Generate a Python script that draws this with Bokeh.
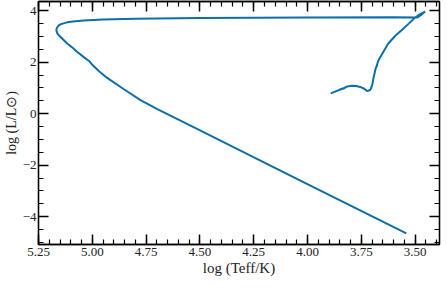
from bokeh.plotting import figure
from bokeh.models import (Range1d, LinearAxis, SingleIntervalTicker,
                          CustomJSTickFormatter)
from bokeh.embed import file_html
from bokeh.resources import INLINE

# Evolutionary track
log_teff = [3.892, 3.875, 3.855, 3.826, 3.848, 3.836, 3.815, 3.795, 3.775,
            3.755, 3.735, 3.722, 3.708, 3.700, 3.692, 3.684, 3.676, 3.681,
            3.672, 3.655, 3.625, 3.590, 3.563, 3.530, 3.500, 3.475, 3.454,
            3.470, 3.460, 3.485, 3.470, 3.490,
            3.600, 4.000, 4.500, 4.800, 4.950, 5.040, 5.090, 5.117, 5.145,
            5.156, 5.165, 5.167, 5.163, 5.156, 5.140, 5.117, 5.090, 5.071,
            5.032, 5.015, 5.000, 4.970, 4.931, 4.853, 4.776, 4.698, 4.511,
            4.045, 3.541]
log_l = [0.79, 0.85, 0.92, 1.00, 0.95, 0.97, 1.06, 1.09, 1.08,
         1.04, 0.96, 0.88, 0.93, 1.10, 1.45, 1.75, 1.90, 1.80,
         2.05, 2.30, 2.73, 3.05, 3.24, 3.50, 3.74, 3.88, 3.97,
         3.86, 3.93, 3.78, 3.85, 3.74,
         3.745, 3.735, 3.72, 3.69, 3.66, 3.62, 3.58, 3.55, 3.48,
         3.43, 3.33, 3.24, 3.13, 3.05, 2.92, 2.73, 2.55, 2.41,
         2.15, 2.05, 1.90, 1.66, 1.39, 0.95, 0.53, 0.18, -0.60,
         -2.55, -4.65]

x_lim = (5.25, 3.387)
y_lim = (-5.08, 4.36)
x_tick_step, x_minor_per_major = 0.25, 5
y_tick_step, y_minor_per_major = 2, 4

FONT = "Liberation Serif"
BLUE = "#0a6fab"

p = figure(width=440, height=280, frame_width=401, frame_height=243,
           output_backend="svg", toolbar_location=None,
           x_range=Range1d(*x_lim), y_range=Range1d(*y_lim),
           x_axis_location=None, y_axis_location=None,
           min_border_left=33, min_border_right=6, min_border_top=1,
           min_border_bottom=36)
p.grid.visible = False
p.outline_line_color = "black"
p.outline_line_width = 1.3
p.background_fill_color = "white"
p.border_fill_color = "white"

minus_fmt = CustomJSTickFormatter(code="""
    if (Math.abs(tick) < 1e-9) return "0";
    return tick < 0 ? "\\u2212" + Math.abs(tick) : String(tick);
""")
x_fmt = CustomJSTickFormatter(code="return tick.toFixed(2);")
blank = CustomJSTickFormatter(code="return '';")


def style(ax, labels=True):
    ax.major_tick_in = 10
    ax.major_tick_out = 0
    ax.minor_tick_in = 5
    ax.minor_tick_out = 0
    ax.axis_line_color = "black"
    ax.axis_line_width = 1.3
    ax.major_tick_line_color = "#000000"
    ax.minor_tick_line_color = "#000000"
    ax.major_tick_line_width = 1.5
    ax.minor_tick_line_width = 1.2
    ax.major_label_text_font = FONT
    ax.major_label_text_font_size = "13px"
    ax.major_label_text_color = "#222222"
    ax.axis_label_text_font = FONT
    ax.axis_label_text_font_size = "15px"
    ax.axis_label_text_font_style = "normal"
    ax.axis_label_text_color = "#222222"
    if not labels:
        ax.major_label_standoff = 0
        ax.major_label_text_font_size = "0px"


xt = SingleIntervalTicker(interval=x_tick_step, num_minor_ticks=x_minor_per_major)
yt = SingleIntervalTicker(interval=y_tick_step, num_minor_ticks=y_minor_per_major)

xb = LinearAxis(ticker=xt, formatter=x_fmt, axis_label="log (Teff/K)")
style(xb)
xb.major_label_standoff = 3
xb.axis_label_standoff = 1
p.add_layout(xb, "below")

yl = LinearAxis(ticker=yt, formatter=minus_fmt, axis_label="log (L/L\u2299)")
style(yl)
yl.major_label_standoff = 2
yl.axis_label_standoff = 1
yl.axis_label_text_font_size = "14px"
p.add_layout(yl, "left")

xa = LinearAxis(ticker=xt, formatter=blank)
style(xa, labels=False)
p.add_layout(xa, "above")

yr = LinearAxis(ticker=yt, formatter=blank)
style(yr, labels=False)
p.add_layout(yr, "right")

p.line(log_teff, log_l, line_color=BLUE, line_width=2)

open("out.html", "w").write(file_html(p, INLINE))
